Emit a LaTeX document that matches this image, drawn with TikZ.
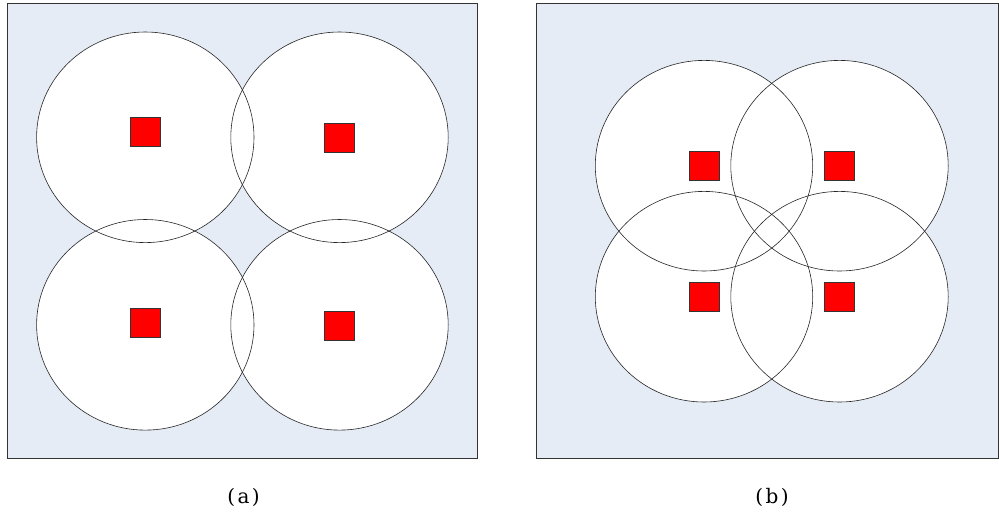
\documentclass[tikz,border=0pt]{standalone}
\usepackage{fontspec}
\newfontfamily\capfont[LetterSpace=12]{DejaVu Serif}
\definecolor{panelbg}{RGB}{230,236,246}
\definecolor{sqred}{RGB}{255,0,0}
\begin{document}
\begin{tikzpicture}[x=1pt,y=-1pt,
  panel/.style={draw=black!80,fill=panelbg,line width=0.8pt},
  cellfill/.style={fill=white},
  celldraw/.style={draw=black!85,line width=0.6pt},
  node square/.style={draw=black!80,fill=sqred,line width=0.6pt,minimum width=30pt,minimum height=29pt,inner sep=0pt,shape=rectangle},
  caption/.style={font=\capfont\fontsize{20}{24}\selectfont,inner sep=0pt}]
\useasboundingbox (0,0) rectangle (999,512);
% panel (a)
\draw[panel] (7.5,3.5) rectangle (477.5,458.5);
\foreach \cx/\cy in {145.3/137.3, 339.5/137.3, 145.3/324.8, 339.5/324.8}
  \fill[cellfill] (\cx,\cy) ellipse [x radius=108.7pt, y radius=105.3pt];
\foreach \cx/\cy in {145.3/137.3, 339.5/137.3, 145.3/324.8, 339.5/324.8}
  \draw[celldraw] (\cx,\cy) ellipse [x radius=108.7pt, y radius=105.3pt];
\node[node square] (a1) at (145.3,131.7) {};
\node[node square] (a2) at (339.7,137.3) {};
\node[node square] (a3) at (145.3,322.3) {};
\node[node square] (a4) at (339.7,325.3) {};
\node[caption] (capa) at (243.5,497.5) {(a)};
% panel (b)
\draw[panel] (536,3.5) rectangle (998.5,458.5);
\foreach \cx/\cy in {704/165.7, 839.5/165.7, 704/296.7, 839.5/296.7}
  \fill[cellfill] (\cx,\cy) ellipse [x radius=108.7pt, y radius=105.3pt];
\foreach \cx/\cy in {704/165.7, 839.5/165.7, 704/296.7, 839.5/296.7}
  \draw[celldraw] (\cx,\cy) ellipse [x radius=108.7pt, y radius=105.3pt];
\node[node square] (b1) at (704.2,165.7) {};
\node[node square] (b2) at (839.5,165.7) {};
\node[node square] (b3) at (704.2,296.7) {};
\node[node square] (b4) at (839.5,296.7) {};
\node[caption] (capb) at (772,497.5) {(b)};
\end{tikzpicture}
\end{document}
